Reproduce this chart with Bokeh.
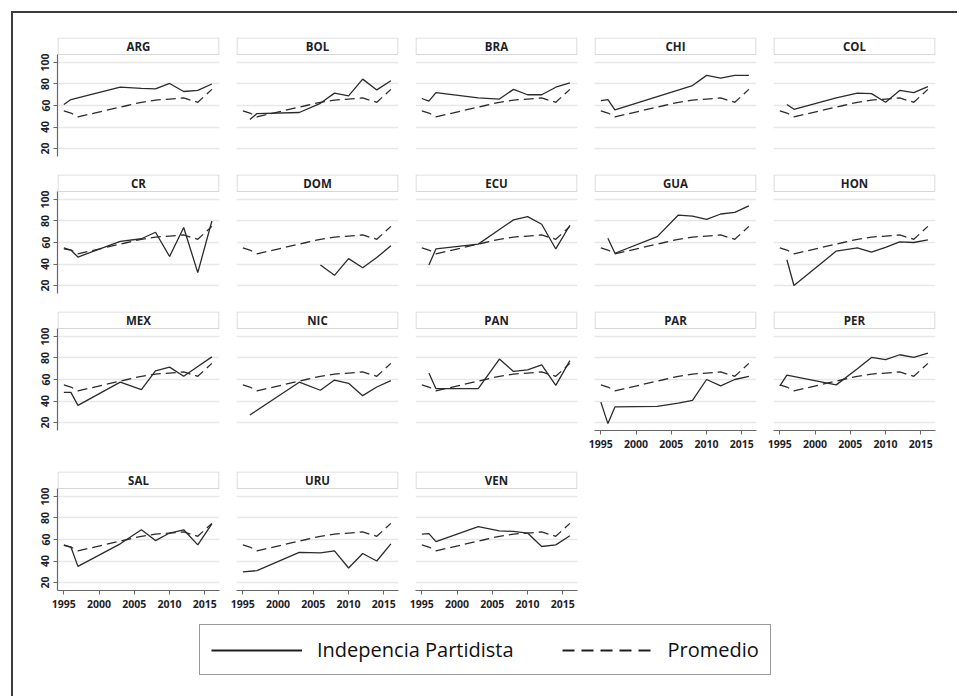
from bokeh.plotting import figure
from bokeh.models import (Range1d, LinearAxis, FixedTicker, Grid, BoxAnnotation,
                          Label, Legend, LegendItem, Spacer)
from bokeh.layouts import row, column
from bokeh.embed import file_html
from bokeh.resources import INLINE

# ---------------- data ----------------
COUNTRIES = ["ARG", "BOL", "BRA", "CHI", "COL",
             "CR", "DOM", "ECU", "GUA", "HON",
             "MEX", "NIC", "PAN", "PAR", "PER",
             "SAL", "URU", "VEN"]

X_TICKS = [1995, 2000, 2005, 2010, 2015]
Y_TICKS = [20, 40, 60, 80, 100]

PROM_YEARS = [1995, 1996, 1997, 2004, 2006, 2008, 2010, 2012, 2014, 2016]
PROM_VALUES = [55, 53, 49.5, 60, 63, 65, 66, 67, 63, 75]

ARG_YEARS = [1995, 1996, 2003, 2006, 2008, 2010, 2012, 2014, 2016]
ARG_VALUES = [61, 65.5, 77, 76, 75.5, 80.5, 73, 74, 80]
BOL_YEARS = [1996, 1997, 2003, 2006, 2008, 2010, 2012, 2014, 2016]
BOL_VALUES = [47, 52.5, 53.5, 62, 71.5, 69, 84.5, 74.5, 83]
BRA_YEARS = [1995, 1996, 1997, 2003, 2006, 2008, 2010, 2012, 2014, 2016]
BRA_VALUES = [66.5, 64, 72, 67, 66, 75, 70, 70, 77, 81]
CHI_YEARS = [1995, 1996, 1997, 2008, 2010, 2012, 2014, 2016]
CHI_VALUES = [64.5, 65.5, 56, 78.5, 88, 85.5, 88, 88]
COL_YEARS = [1996, 1997, 2003, 2006, 2008, 2010, 2012, 2014, 2016]
COL_VALUES = [61, 56.5, 67, 71.5, 71, 63, 74, 72, 77.5]
CR_YEARS = [1995, 1996, 1997, 2003, 2006, 2008, 2010, 2012, 2014, 2016]
CR_VALUES = [54, 53, 46.5, 61, 63.5, 69.5, 47, 74, 32, 80]
DOM_YEARS = [2006, 2008, 2010, 2012, 2014, 2016]
DOM_VALUES = [39, 29.5, 45, 36.5, 46, 57]
ECU_YEARS = [1996, 1997, 2003, 2006, 2008, 2010, 2012, 2014, 2016]
ECU_VALUES = [39, 54, 58.5, 72, 81, 84, 77, 54, 76]
GUA_YEARS = [1996, 1997, 2003, 2006, 2008, 2010, 2012, 2014, 2016]
GUA_VALUES = [64, 50, 65.5, 85.5, 84.5, 81.5, 86.5, 88, 94]
HON_YEARS = [1996, 1997, 2003, 2006, 2008, 2010, 2012, 2014, 2016]
HON_VALUES = [44, 20, 52, 55, 51, 55.5, 60.5, 60, 62.5]
MEX_YEARS = [1995, 1996, 1997, 2003, 2006, 2008, 2010, 2012, 2014, 2016]
MEX_VALUES = [48, 48, 36, 57.5, 50.5, 68, 71.5, 63, 72, 81]
NIC_YEARS = [1996, 2003, 2006, 2008, 2010, 2012, 2014, 2016]
NIC_VALUES = [27, 57.5, 50, 59.5, 56.5, 45, 53, 59]
PAN_YEARS = [1996, 1997, 2003, 2006, 2008, 2010, 2012, 2014, 2016]
PAN_VALUES = [66, 51.5, 51.5, 79, 67.5, 69, 73.5, 54.5, 77.5]
PAR_YEARS = [1995, 1996, 1997, 2003, 2006, 2008, 2010, 2012, 2014, 2016]
PAR_VALUES = [39, 19, 34.5, 35, 38, 40.5, 60, 54, 60, 63]
PER_YEARS = [1995, 1996, 2003, 2006, 2008, 2010, 2012, 2014, 2016]
PER_VALUES = [54, 64, 55, 70, 80.5, 78.5, 83, 80.5, 84.5]
SAL_YEARS = [1995, 1996, 1997, 2003, 2006, 2008, 2010, 2012, 2014, 2016]
SAL_VALUES = [54.5, 53, 35, 56, 69, 59, 66, 69, 55, 74.5]
URU_YEARS = [1995, 1997, 2003, 2006, 2008, 2010, 2012, 2014, 2016]
URU_VALUES = [30, 31, 48, 47.5, 49.5, 33.5, 47, 40, 56]
VEN_YEARS = [1995, 1996, 1997, 2003, 2006, 2008, 2010, 2012, 2014, 2016]
VEN_VALUES = [65, 65.5, 58, 72, 68, 67.5, 66, 53.5, 55, 63.5]

SERIES = {
    "ARG": (ARG_YEARS, ARG_VALUES), "BOL": (BOL_YEARS, BOL_VALUES),
    "BRA": (BRA_YEARS, BRA_VALUES), "CHI": (CHI_YEARS, CHI_VALUES),
    "COL": (COL_YEARS, COL_VALUES), "CR": (CR_YEARS, CR_VALUES),
    "DOM": (DOM_YEARS, DOM_VALUES), "ECU": (ECU_YEARS, ECU_VALUES),
    "GUA": (GUA_YEARS, GUA_VALUES), "HON": (HON_YEARS, HON_VALUES),
    "MEX": (MEX_YEARS, MEX_VALUES), "NIC": (NIC_YEARS, NIC_VALUES),
    "PAN": (PAN_YEARS, PAN_VALUES), "PAR": (PAR_YEARS, PAR_VALUES),
    "PER": (PER_YEARS, PER_VALUES), "SAL": (SAL_YEARS, SAL_VALUES),
    "URU": (URU_YEARS, URU_VALUES), "VEN": (VEN_YEARS, VEN_VALUES),
}
BOTTOM = {"PAR", "PER", "SAL", "URU", "VEN"}

LEGEND_LABELS = ["Indepencia Partidista", "Promedio"]

# ---------------- geometry / style ----------------
X0, X1 = 1994.1, 2017.08
Y0, YS, Y1 = 12.6, 107.4, 123.2   # bottom, strip bottom, strip top
FRAME_W, FRAME_H = 162, 119
LINE_C = "#2b2b2b"
TXT_C = "#1e1e28"
FONT = "Open Sans"
ROW_T = [24, 9, 9, 9]
ROW_B = [9, 9, 32, 30]


def make_panel(name, r, c):
    L = 44 if c == 0 else 9
    R = 8
    T, B = ROW_T[r], ROW_B[r]
    p = figure(width=L + FRAME_W + R, height=T + FRAME_H + B,
               x_range=Range1d(X0, X1), y_range=Range1d(Y0, Y1),
               x_axis_type=None, y_axis_type=None, title=None,
               toolbar_location=None, output_backend="svg",
               min_border_left=L, min_border_right=R,
               min_border_top=T, min_border_bottom=B)
    p.outline_line_color = None
    p.background_fill_color = "white"
    p.border_fill_color = "white"

    grid = Grid(dimension=1, ticker=FixedTicker(ticks=Y_TICKS),
                grid_line_color="#e7e7e7", grid_line_width=1.6)
    p.add_layout(grid)

    if c == 0:
        ya = LinearAxis(ticker=FixedTicker(ticks=Y_TICKS), bounds=(Y0, YS),
                        major_label_orientation="vertical",
                        axis_line_color="#666666", axis_line_width=1.2,
                        major_tick_line_color="#666666", major_tick_out=4,
                        major_tick_in=0, minor_tick_line_color=None,
                        major_label_standoff=4,
                        major_label_text_font=FONT,
                        major_label_text_font_style="bold",
                        major_label_text_font_size="10.5px",
                        major_label_text_color=TXT_C)
        p.add_layout(ya, "left")
    if name in BOTTOM:
        xa = LinearAxis(ticker=FixedTicker(ticks=X_TICKS),
                        axis_line_color="#666666", axis_line_width=1.2,
                        major_tick_line_color="#666666", major_tick_out=4,
                        major_tick_in=0, minor_tick_line_color=None,
                        major_label_standoff=5,
                        major_label_text_font=FONT,
                        major_label_text_font_style="bold",
                        major_label_text_font_size="10.5px",
                        major_label_text_color=TXT_C)
        p.add_layout(xa, "below")

    # facet strip
    strip = BoxAnnotation(left=X0 + 0.07, right=X1 - 0.07,
                          bottom=YS, top=Y1 - 0.45,
                          fill_color="white", fill_alpha=1.0,
                          line_color="#7a7a7a", line_width=1.2)
    p.add_layout(strip)
    p.add_layout(Label(x=(X0 + X1) / 2, y=(YS + Y1) / 2, text=name,
                       text_align="center", text_baseline="middle",
                       text_font=FONT, text_font_style="bold",
                       text_font_size="11.5px", text_color=TXT_C))

    p.line(PROM_YEARS, PROM_VALUES, line_color=LINE_C, line_width=1.3,
           line_dash="10 5")
    yrs, vals = SERIES[name]
    p.line(yrs, vals, line_color=LINE_C, line_width=1.3)
    return p


rows = []
for r in range(4):
    names = COUNTRIES[r * 5:(r + 1) * 5]
    rows.append(row(*[make_panel(n, r, c) for c, n in enumerate(names)]))

# ---------------- legend ----------------
leg = figure(width=930, height=60, x_range=Range1d(0, 1), y_range=Range1d(0, 1),
             x_axis_type=None, y_axis_type=None, title=None,
             toolbar_location=None, output_backend="svg", min_border=0)
leg.outline_line_color = None
# key renderers: their points lie outside the (hidden) ranges; only the legend keys show
r_solid = leg.line(x=[5, 6], y=[5, 6], line_color="#1e1e1e", line_width=2)
r_dash = leg.line(x=[5, 6], y=[5, 6], line_color="#1e1e1e", line_width=2,
                  line_dash="12 7")
legend = Legend(items=[LegendItem(label=LEGEND_LABELS[0], renderers=[r_solid]),
                       LegendItem(label=LEGEND_LABELS[1], renderers=[r_dash])],
                orientation="horizontal", location=(186, 5),
                glyph_width=91, glyph_height=22, label_height=22,
                label_standoff=15, spacing=48, padding=11, margin=0,
                label_text_font=FONT, label_text_font_size="20px",
                label_text_color="#111111",
                border_line_color="#333333", border_line_width=1.6,
                background_fill_color="white", background_fill_alpha=1.0)
leg.add_layout(legend)

content = column(*rows, leg)
left_bar = Spacer(width=2, height=683, styles={"background-color": "#3c3c3c"})
top_bar = Spacer(width=946, height=2, styles={"background-color": "#3c3c3c"})
framed = column(top_bar, row(left_bar, content))
page = column(Spacer(width=10, height=11), row(Spacer(width=11, height=10), framed))

open("out.html", "w").write(file_html(page, INLINE))
